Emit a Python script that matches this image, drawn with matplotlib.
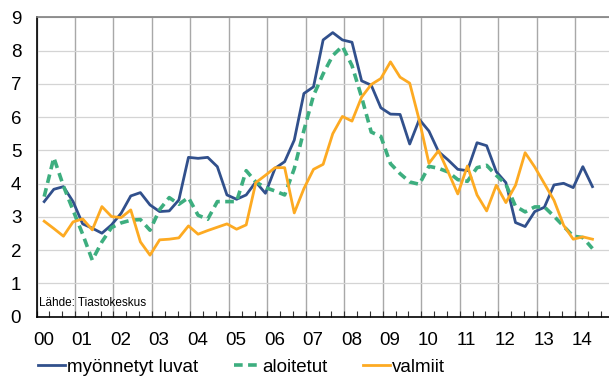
import matplotlib
matplotlib.use("Agg")
import matplotlib.pyplot as plt
import matplotlib.transforms as mtransforms
import numpy as np

plt.rcParams['font.family'] = ['Liberation Sans', 'DejaVu Sans']

# quarterly index since 2000 Q1
year_labels = ["00", "01", "02", "03", "04", "05", "06", "07", "08", "09",
               "10", "11", "12", "13", "14"]
series_names = ["myönnetyt luvat", "aloitetut", "valmiit"]

myonnetyt = [3.46, 3.83, 3.91, 3.46, 2.79, 2.66, 2.51, 2.76, 3.11, 3.63,
             3.73, 3.36, 3.16, 3.18, 3.51, 4.79, 4.76, 4.79, 4.51, 3.66,
             3.53, 3.66, 4.05, 3.71, 4.46, 4.66, 5.31, 6.71, 6.91, 8.32,
             8.54, 8.32, 8.25, 7.09, 6.96, 6.28, 6.09, 6.08, 5.19, 5.93,
             5.58, 4.96, 4.71, 4.43, 4.39, 5.23, 5.14, 4.36, 4.03, 2.83,
             2.71, 3.16, 3.29, 3.96, 4.01, 3.88, 4.51, 3.91]
aloitetut = [3.61, 4.78, 3.93, 3.20, 2.48, 1.70, 2.25, 2.68, 2.82, 2.90,
             2.92, 2.60, 3.22, 3.58, 3.38, 3.58, 3.05, 2.93, 3.46, 3.46,
             3.46, 4.39, 4.05, 3.88, 3.78, 3.66, 4.45, 5.60, 6.65, 7.30,
             7.85, 8.13, 7.55, 6.60, 5.55, 5.42, 4.60, 4.30, 4.05, 3.98,
             4.52, 4.46, 4.35, 4.12, 4.07, 4.48, 4.55, 4.25, 3.98, 3.32,
             3.15, 3.30, 3.30, 3.02, 2.72, 2.42, 2.38, 2.05]
valmiit = [2.87, 2.65, 2.42, 2.85, 2.94, 2.61, 3.31, 3.01, 2.98, 3.21,
           2.25, 1.85, 2.31, 2.33, 2.37, 2.73, 2.48, 2.59, 2.69, 2.79,
           2.63, 2.76, 4.03, 4.25, 4.48, 4.48, 3.12, 3.85, 4.43, 4.58,
           5.50, 6.02, 5.88, 6.60, 6.98, 7.16, 7.66, 7.20, 7.02, 5.90,
           4.61, 4.99, 4.35, 3.69, 4.53, 3.66, 3.18, 3.95, 3.43, 3.95,
           4.93, 4.50, 4.00, 3.50, 2.75, 2.33, 2.40, 2.33]

colors = ["#31508C", "#3DAE7F", "#FDAA22"]

n = len(myonnetyt)
x = 0.2 + np.arange(n) / 4.0

fig = plt.figure(figsize=(6.09, 3.77), dpi=100)
ax = fig.add_axes([36.5 / 609, 1 - 316.7 / 377, 1 - 36.5 / 609, (316.7 - 17.3) / 377])

l1, = ax.plot(x, myonnetyt, color=colors[0], lw=2.0, solid_joinstyle='round', zorder=3)
l2, = ax.plot(x, aloitetut, color=colors[1], lw=2.6, dashes=(2.4, 1.5), zorder=3)
l3, = ax.plot(x, valmiit, color=colors[2], lw=2.0, solid_joinstyle='round', zorder=3)

ax.set_xlim(0, 14.88)
ax.set_ylim(0, 9)

# horizontal grid
ax.set_yticks(range(0, 10))
ax.yaxis.grid(True, color="#D4D4D4", lw=0.9)
# vertical grid at years
years = np.arange(len(year_labels))
ax.set_xticks(years)
ax.set_xticklabels(year_labels)
ax.xaxis.grid(True, color="#A8A8A8", lw=1.0)
ax.set_xticks(np.arange(0, 14.9, 1 / 3), minor=True)
ax.set_axisbelow(True)

ax.tick_params(axis='x', which='both', direction='in', length=4, width=0.8,
               color="#333333", labelsize=13.5, pad=11)
ax.tick_params(axis='y', length=0, labelsize=13.5, pad=11)
offset = mtransforms.ScaledTranslation(7 / 100, 0, fig.dpi_scale_trans)
for lab in ax.get_xticklabels():
    lab.set_transform(lab.get_transform() + offset)

for s in ['left', 'bottom']:
    ax.spines[s].set_color('black')
    ax.spines[s].set_linewidth(1.2)
ax.spines['top'].set_color('#7F7F7F')
ax.spines['top'].set_linewidth(1.2)
ax.spines['right'].set_visible(False)

ax.text(0.004, 0.046, "Lähde: Tiastokeskus", transform=ax.transAxes,
        fontsize=8.5, va='center', ha='left', color='black')

fig.legend([l1, l2, l3], series_names, loc='center left',
           bbox_to_anchor=(38 / 609, 1 - 367 / 377), ncol=3, frameon=False,
           fontsize=13.5, handlelength=1.42, handletextpad=0.12,
           columnspacing=1.9, borderpad=0, borderaxespad=0)

fig.savefig("out.png", dpi=100)
